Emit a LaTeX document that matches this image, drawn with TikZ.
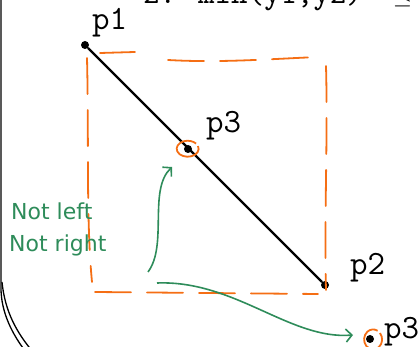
\documentclass[tikz,border=0pt]{standalone}
\usepackage{fontspec}
\newfontfamily\handfont{DejaVu Sans}
\usetikzlibrary{arrows.meta,positioning}
\definecolor{penorange}{RGB}{245,110,20}
\definecolor{pengreen}{RGB}{46,140,90}
\definecolor{inkblack}{RGB}{0,0,0}
\tikzset{
  ptlbl/.style={font=\ttfamily\fontsize{34}{34}\selectfont,inner sep=0pt,anchor=base west},
  condlbl/.style={ptlbl,font=\ttfamily\fontsize{32}{32}\selectfont},
  ptdot/.style={circle,fill=inkblack,inner sep=0pt,minimum size=8pt},
  seg/.style={draw=inkblack,line width=2.2pt},
  frame/.style={draw=inkblack,line width=1.3pt},
  boxline/.style={draw=penorange,line width=1.8pt,dash pattern=on 36pt off 16pt,line cap=round},
  ring/.style={draw=penorange,line width=1.8pt},
  note/.style={font=\handfont\fontsize{22}{22}\selectfont,text=pengreen,inner sep=0pt,anchor=base west},
  scrib/.style={draw=pengreen,line width=1.6pt,-{Straight Barb[length=6pt,width=13pt]}},
}
\begin{document}
\begin{tikzpicture}[x=1pt,y=-1pt]
  \useasboundingbox (0,0) rectangle (418,347);
  % page edge, curling at the bottom
  \draw[frame] (1,-10) -- (1,288) .. controls (1,312) and (12,334) .. (26,352);
  \draw[frame] (2,282) .. controls (5,312) and (17,333) .. (33,352);

  % condition, cut off at the top
  \node[condlbl] (cond) at (143,4) {2. min(y1,y2)\hspace{30pt}$\leq$};

  % segment and its points
  \node[ptdot] (p1) at (85,45) {};
  \node[ptdot] (p2) at (325,285) {};
  \node[ptdot] (p3) at (188,149) {};
  \draw[seg] (p1) -- (p2);
  \node[ptlbl] (p1lbl) at (92,30) {p1};
  \node[ptlbl] (p2lbl) at (350,275) {p2};
  \node[ptlbl] (p3lbl) at (206,133) {p3};

  % bounding box of the segment
  \draw[boxline] (100,53) -- (135,52);
  \draw[boxline] (168,60) .. controls (220,63) and (270,59) .. (318,57) -- (322,60);
  \draw[boxline] (326,66) .. controls (328,140) and (324,220) .. (326,290);
  \draw[boxline] (87,58) .. controls (89,140) and (86,220) .. (92,282);
  \draw[boxline] (95,292) -- (318,294);

  % p3 ringed
  \draw[ring] (198,146) arc[start angle=-20,end angle=320,x radius=11,y radius=8];

  % p3 outside the box
  \node[ptdot] (q3) at (370,339) {};
  \draw[ring] (380,333) arc[start angle=-40,end angle=300,x radius=9,y radius=10];
  \node[ptlbl] (q3lbl) at (384,339) {p3};

  % notes
  \node[note] (nl) at (11,220) {Not left};
  \node[note] (nr) at (9,252) {Not right};
  \coordinate (a0) at (148,272);
  \coordinate (a1) at (172,167);
  \draw[scrib] (a0) .. controls (168,245) and (148,190) .. (a1);
  \coordinate (b0) at (157,283);
  \coordinate (b1) at (353,335);
  \draw[scrib] (b0) .. controls (235,280) and (290,340) .. (b1);
\end{tikzpicture}
\end{document}
